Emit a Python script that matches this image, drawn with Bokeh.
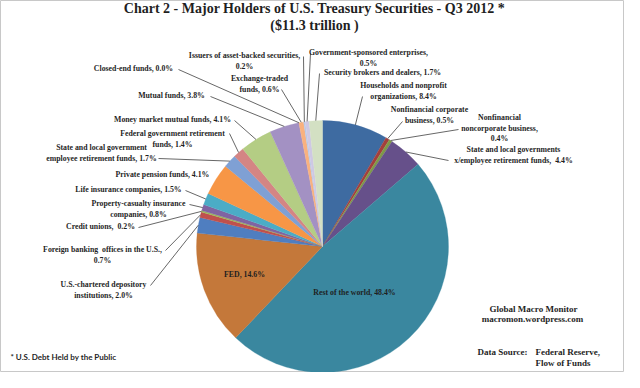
import numpy as np
from bokeh.plotting import figure
from bokeh.models import Range1d, ColumnDataSource
from bokeh.core.properties import value
from bokeh.embed import file_html
from bokeh.resources import INLINE

# ---------------- data ----------------
holders = [
    "Households and nonprofit organizations",
    "Nonfinancial corporate business",
    "Nonfinancial noncorporate business",
    "State and local governments x/employee retirement funds",
    "Rest of the world",
    "FED",
    "U.S.-chartered depository institutions",
    "Foreign banking offices in the U.S.",
    "Credit unions",
    "Property-casualty insurance companies",
    "Life insurance companies",
    "Private pension funds",
    "State and local government employee retirement funds",
    "Federal government retirement funds",
    "Money market mutual funds",
    "Mutual funds",
    "Closed-end funds",
    "Exchange-traded funds",
    "Issuers of asset-backed securities",
    "Government-sponsored enterprises",
    "Security brokers and dealers",
]
shares = [8.4, 0.5, 0.4, 4.4, 48.4, 14.6, 2.0, 0.7, 0.2, 0.8, 1.5, 4.1,
          1.7, 1.4, 4.1, 3.8, 0.0, 0.6, 0.2, 0.5, 1.7]
label_lines = [
    ["Households and nonprofit", "organizations, 8.4%"],
    ["Nonfinancial corporate", "business, 0.5%"],
    ["Nonfinancial", "noncorporate business,", "0.4%"],
    ["State and local governments", "x/employee retirement funds,\u00a0\u00a04.4%"],
    ["Rest of the world, 48.4%"],
    ["FED, 14.6%"],
    ["U.S.-chartered depository", "institutions, 2.0%"],
    ["Foreign banking\u00a0 offices in the U.S.,", "0.7%"],
    ["Credit unions,\u00a0 0.2%"],
    ["Property-casualty insurance", "companies, 0.8%"],
    ["Life insurance companies, 1.5%"],
    ["Private pension funds, 4.1%"],
    ["State and local government", "employee retirement funds, 1.7%"],
    ["Federal government retirement", "funds, 1.4%"],
    ["Money market mutual funds, 4.1%"],
    ["Mutual funds, 3.8%"],
    ["Closed-end funds, 0.0%"],
    ["Exchange-traded", "funds, 0.6%"],
    ["Issuers of asset-backed securities,", "0.2%"],
    ["Government-sponsored enterprises,", "0.5%"],
    ["Security brokers and dealers, 1.7%"],
]
title_lines = ["Chart 2 - Major Holders of U.S. Treasury Securities - Q3 2012 *",
               "($11.3 trillion )"]
credit_lines = ["Global Macro Monitor", "macromon.wordpress.com"]
source_head = "Data Source:"
source_lines = ["Federal Reserve,", "Flow of Funds"]
footnote = "* U.S. Debt Held by the Public"

# ---------------- styles / layout ----------------
colors = ["#3E6BA1", "#A33F3C", "#7E9A47", "#66508A", "#3A879F", "#C4783A",
          "#4F7EC0", "#C0504D", "#9BBB59", "#8064A2", "#4BACC6", "#F79646",
          "#7FA0D4", "#D48584", "#B4CD84", "#A391C3", "#7BC5D8", "#F9B17E",
          "#B9C9E6", "#CEC8E4", "#D3E0C3"]

W, H = 624, 372
def X(ax):  # absolute page pixel -> data
    return ax - 8
def Y(ay):
    return 380 - ay

CX, CY, R = X(330), Y(254), 126

# label block centre (abs px, first line) and leader anchor (abs px or None)
label_pos = [
    (411, 93), (437, 117), (507, 125), (521, 157), (362, 300), (252, 282),
    (111, 292), (110, 257), (108, 234), (146, 211), (136, 197), (170, 182),
    (109, 155), (180, 141), (180, 127), (179, 103), (141, 76), (267, 86),
    (252, 63), (376, 60), (390, 80),
]
leader_anchor = [
    (370, 104), (410, 129), (466, 137), (456, 168), None, None,
    (158, 293), (173, 258), (146, 235), (197, 212), (193, 198), None,
    (166, 166), (237, 141), (242, 128), (218, 104), (186, 77), (289, 97),
    (311, 64), (318, 61), (327, 81),
]
LINE_H = 10.5

p = figure(width=W, height=H, x_range=Range1d(0, W), y_range=Range1d(0, H),
           output_backend="svg", toolbar_location=None, min_border=0,
           x_axis_type=None, y_axis_type=None)
p.grid.visible = False
p.outline_line_color = "#C8C8C8"
p.background_fill_color = "white"
p.border_fill_color = "white"

# ---------------- pie ----------------
frac = np.array(shares) / sum(shares)
c1 = np.cumsum(frac)
c0 = c1 - frac
start = np.pi / 2 - 2 * np.pi * c1
end = np.pi / 2 - 2 * np.pi * c0
mid = (start + end) / 2
keep = frac > 0
src = ColumnDataSource(dict(start=start[keep], end=end[keep],
                            color=[c for c, k in zip(colors, keep) if k]))
p.wedge(x=CX, y=CY, radius=R, start_angle="start", end_angle="end",
        direction="anticlock", fill_color="color", line_color="color",
        line_width=0.3, source=src)

# ---------------- leaders ----------------
xs, ys = [], []
for i, a in enumerate(leader_anchor):
    if a is None:
        continue
    ex = CX + R * np.cos(mid[i])
    ey = CY + R * np.sin(mid[i])
    xs.append([X(a[0]), ex])
    ys.append([Y(a[1]), ey])
p.multi_line(xs=xs, ys=ys, line_color="#404040", line_width=0.8)

# ---------------- labels ----------------
tx, ty, tt = [], [], []
for (lx, ly), lines in zip(label_pos, label_lines):
    for k, t in enumerate(lines):
        tx.append(X(lx))
        ty.append(Y(ly + k * LINE_H))
        tt.append(t)
p.text(x=tx, y=ty, text=tt, text_align="center", text_baseline="middle",
       text_font=value("Liberation Serif"), text_font_style="bold",
       text_font_size="7.8px", text_color="#1F1F1F")

# title
p.text(x=[X(322), X(322)], y=[Y(16), Y(33)], text=title_lines,
       text_align="center", text_baseline="middle",
       text_font=value("Liberation Serif"), text_font_style="bold",
       text_font_size="14px", text_color="#1F1F1F")

# credits
p.text(x=[X(541), X(540)], y=[Y(316), Y(326)], text=credit_lines,
       text_align="center", text_baseline="middle",
       text_font=value("Liberation Serif"), text_font_style="bold",
       text_font_size="9px", text_color="#1F1F1F")
p.text(x=[X(485)], y=[Y(359)], text=[source_head],
       text_align="left", text_baseline="middle",
       text_font=value("Liberation Serif"), text_font_style="bold",
       text_font_size="9px", text_color="#1F1F1F")
p.text(x=[X(543), X(543)], y=[Y(359), Y(370)], text=source_lines,
       text_align="left", text_baseline="middle",
       text_font=value("Liberation Serif"), text_font_style="bold",
       text_font_size="9px", text_color="#1F1F1F")

# footnote
p.text(x=[X(18)], y=[Y(364)], text=[footnote], text_align="left",
       text_baseline="middle", text_font=value("Lato"), text_font_style="bold",
       text_font_size="8px", text_color="#1F1F1F")

open("out.html", "w").write(file_html(p, INLINE))
